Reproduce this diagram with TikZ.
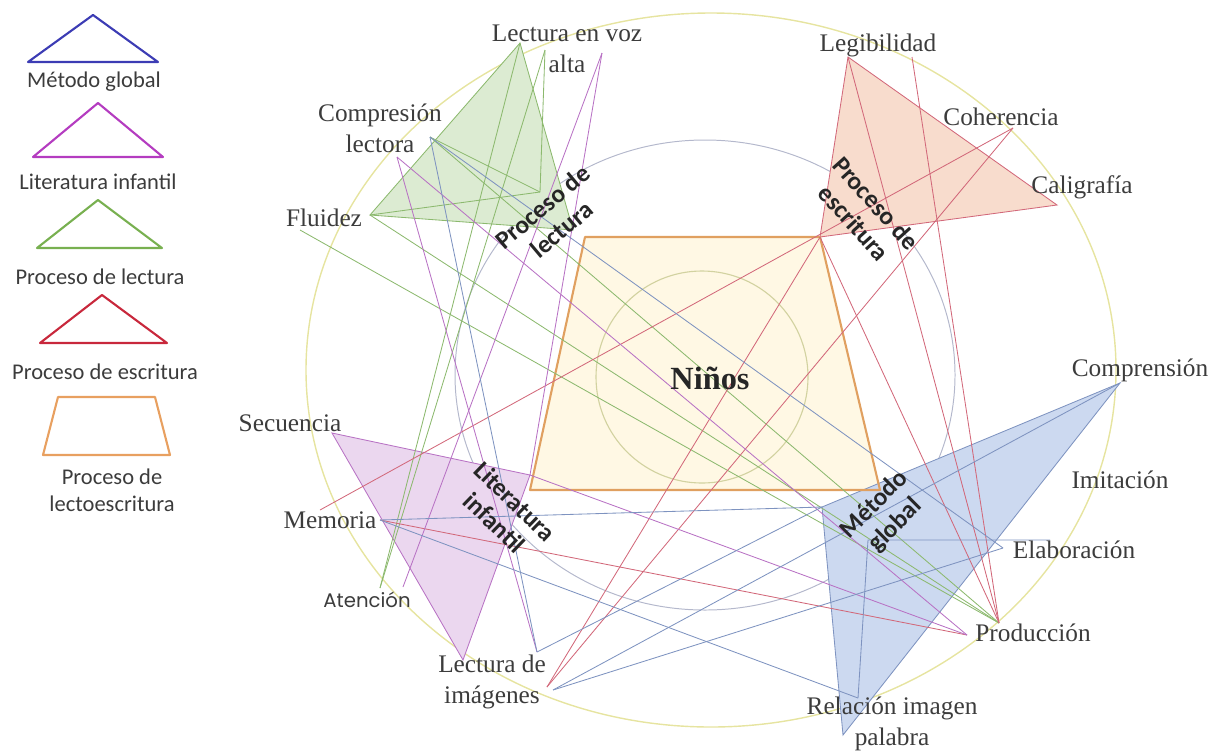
\documentclass[tikz,border=0pt]{standalone}
\usepackage{fontspec}
\setmainfont{Liberation Serif}
\newfontfamily\calibrifont{Carlito}
\newfontfamily\geofont{Poppins}
\usepackage{xcolor}
\usetikzlibrary{positioning}
\definecolor{txtgray}{HTML}{3C3C3C}
\definecolor{gline}{HTML}{8CB96E}
\definecolor{gfill}{HTML}{DCEBD2}
\definecolor{rline}{HTML}{D2687A}
\definecolor{rfill}{HTML}{F8DCCD}
\definecolor{mline}{HTML}{B872C4}
\definecolor{mfill}{HTML}{EBD7EF}
\definecolor{bline}{HTML}{7E93C0}
\definecolor{bfill}{HTML}{CCD9F0}
\definecolor{trline}{HTML}{E0A060}
\definecolor{trfill}{HTML}{FFF8E4}
\definecolor{outercirc}{HTML}{E6E4A0}
\definecolor{midcirc}{HTML}{B4B8CC}
\definecolor{innercirc}{HTML}{D2D2A0}
\definecolor{legblue}{HTML}{3C3CB4}
\definecolor{legmag}{HTML}{B43CC0}
\definecolor{leggreen}{HTML}{78B050}
\definecolor{legred}{HTML}{C8283C}
\definecolor{legorange}{HTML}{E8A060}

\begin{document}
\begin{tikzpicture}[
    x=0.025cm, y=-0.025cm,
    concept/.style={font=\fontsize{18}{22}\selectfont, text=txtgray, align=center, inner sep=1pt},
    tag/.style={font=\calibrifont\bfseries\fontsize{18}{21}\selectfont, text=black!85, align=center, inner sep=0pt},
    legtext/.style={font=\calibrifont\fontsize{16}{19}\selectfont, text=txtgray, align=center},
    legshape/.style={draw=#1, line width=1.5pt, line join=round},
    glink/.style={draw=gline, line width=0.6pt},
    rlink/.style={draw=rline, line width=0.6pt},
    mlink/.style={draw=mline, line width=0.6pt},
    blink/.style={draw=bline, line width=0.6pt}
]
\useasboundingbox (0,0) rectangle (1220,752);

% Legend
\draw[legshape=legblue] (93,15) -- (158,62) -- (28,62) -- cycle;
\node[legtext] (lgGlobal) at (94,82) {Método global};
\draw[legshape=legmag] (98,103) -- (163,157) -- (33,157) -- cycle;
\node[legtext] (lgLit) at (98,182) {Literatura infantil};
\draw[legshape=leggreen] (98,200) -- (162,248) -- (37,248) -- cycle;
\node[legtext] (lgLec) at (100,277) {Proceso de lectura};
\draw[legshape=legred] (102,295) -- (167,343) -- (40,343) -- cycle;
\node[legtext] (lgEsc) at (105,372) {Proceso de escritura};
\draw[legshape=legorange] (58,397) -- (155,397) -- (170,455) -- (43,455) -- cycle;
\node[legtext] (lgLecto) at (112,490) {Proceso de\\lectoescritura};

% Circles
\draw[outercirc, line width=1pt] (711,370) ellipse [x radius=405, y radius=357];
\draw[midcirc, line width=0.7pt] (705,375) ellipse [x radius=250, y radius=235];

% Ports of the concepts
\coordinate (lvaA) at (520,43);
\coordinate (lvaB) at (545,50);
\coordinate (lvaC) at (602,53);
\coordinate (clA) at (430,137);
\coordinate (clB) at (397,157);
\coordinate (fluA) at (300,230);
\coordinate (fluB) at (370,215);
\coordinate (plA) at (573,230);
\coordinate (plB) at (540,192);
\coordinate (secA) at (332,433);
\coordinate (memA) at (320,510);
\coordinate (memB) at (380,520);
\coordinate (ateA) at (380,588);
\coordinate (ateC) at (403,587);
\coordinate (litA) at (530,475);
\coordinate (limA) at (463,660);
\coordinate (limB) at (537,652);
\coordinate (limC) at (547,687);
\coordinate (limD) at (553,690);
\coordinate (ripA) at (843,735);
\coordinate (ripB) at (858,698);
\coordinate (proA) at (999,623);
\coordinate (proB) at (967,635);
\coordinate (elaA) at (1050,540);
\coordinate (elaB) at (868,540);
\coordinate (elaC) at (1003,548);
\coordinate (mgA) at (822,507);
\coordinate (compA) at (1120,383);
\coordinate (calA) at (1057,205);
\coordinate (cohA) at (1013,128);
\coordinate (legA) at (848,57);
\coordinate (legB) at (912,57);
\coordinate (escA) at (820,237);

% Areas
\fill[trfill] (585,237) -- (820,237) -- (880,490) -- (530,490) -- cycle;
\draw[innercirc, line width=0.8pt] (702,377) circle [radius=106];
\filldraw[fill=gfill, glink] (lvaA) -- (fluB) -- (plA) -- cycle;
\filldraw[fill=rfill, rlink] (legA) -- (calA) -- (escA) -- cycle;
\filldraw[fill=mfill, mlink] (secA) -- (litA) -- (limA) -- cycle;
\filldraw[fill=bfill, blink] (compA) -- (mgA) -- (ripA) -- cycle;
\draw[trline, line width=1.5pt, line join=round] (585,237) -- (820,237) -- (880,490) -- (530,490) -- cycle;

% Proceso de lectura
\draw[glink] (fluB) -- (plB);
\draw[glink] (clA) -- (plB);
\draw[glink] (lvaB) -- (plB);
\draw[glink] (lvaA) -- (ateA);
\draw[glink] (lvaB) -- (ateA);
\draw[glink] (fluA) -- (proA);
\draw[glink] (fluB) -- (proA);
\draw[glink] (clA) -- (proA);

% Proceso de escritura
\draw[rlink] (legB) -- (proA);
\draw[rlink] (legA) -- (proA);
\draw[rlink] (escA) -- (proA);
\draw[rlink] (memA) -- (cohA);
\draw[rlink] (cohA) -- (limC);
\draw[rlink] (escA) -- (limC);
\draw[rlink] (memB) -- (proB);

% Literatura infantil
\draw[mlink] (lvaC) -- (ateC);
\draw[mlink] (lvaC) -- (litA);
\draw[mlink] (clB) -- (limB);
\draw[mlink] (clB) -- (proB);
\draw[mlink] (litA) -- (proB);

% Metodo global
\draw[blink] (memB) -- (mgA);
\draw[blink] (memB) -- (ripB);
\draw[blink] (ripB) -- (elaB) -- (elaA);
\draw[blink] (limD) -- (compA);
\draw[blink] (limD) -- (elaC);
\draw[blink] (limB) -- (mgA);
\draw[blink] (clA) -- (limB);
\draw[blink] (clA) -- (elaC);

% Concepts
\node[concept] (lva) at (567,49) {Lectura en voz\\alta};
\node[concept] (cl) at (380,128) {Compresión\\lectora};
\node[concept] (flu) at (324,218) {Fluidez};
\node[concept] (sec) at (290,423) {Secuencia};
\node[concept] (mem) at (330,520) {Memoria};
\node[font=\geofont\fontsize{14}{16}\selectfont, text=txtgray] (ate) at (367,600) {Atención};
\node[concept] (lim) at (492,682) {Lectura de\\imágenes};
\node[concept] (rip) at (892,724) {Relación imagen\\palabra};
\node[concept] (pro) at (1033,633) {Producción};
\node[concept] (ela) at (1074,550) {Elaboración};
\node[concept] (imi) at (1120,480) {Imitación};
\node[concept] (comp) at (1140,370) {Comprensión};
\node[concept] (cal) at (1082,187) {Caligrafía};
\node[concept] (coh) at (1001,117) {Coherencia};
\node[concept] (leg) at (878,45) {Legibilidad};
\node[font=\fontsize{23}{26}\selectfont\bfseries, text=black!85] (ninos) at (710,378) {Niños};

% Processes
\node[tag, rotate=40] (tlec) at (552,218) {Proceso de\\lectura};
\node[tag, rotate=-48] (tesc) at (865,213) {Proceso de\\escritura};
\node[tag, rotate=-44] (tlit) at (505,512) {Literatura\\infantil};
\node[tag, rotate=45] (tglo) at (885,515) {Método\\global};

\end{tikzpicture}
\end{document}
